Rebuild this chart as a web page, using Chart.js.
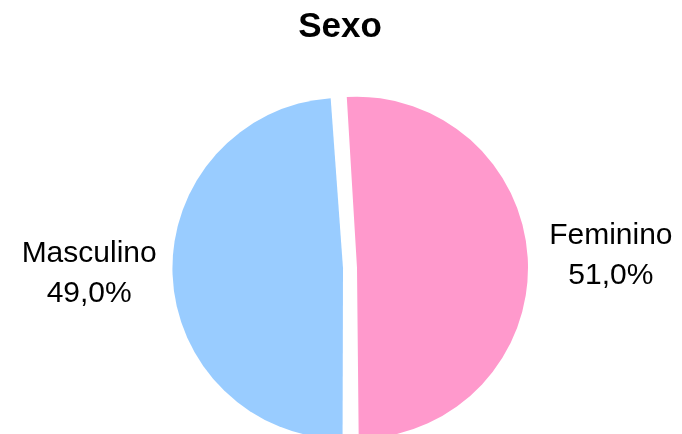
<!DOCTYPE html>
<html>
<head>
<meta charset="utf-8">
<script src="https://cdn.jsdelivr.net/npm/chart.js@4"></script>
<style>
    html, body { margin: 0; padding: 0; background: #fff; }
    #wrap { width: 682px; height: 434px; position: relative; }
</style>
</head>
<body>
<div id="wrap"><canvas id="sexoChart"></canvas></div>
<script>
const titleText = 'Sexo';
const labels = ['Feminino', 'Masculino'];
const values = [51.0, 49.0];
const colors = ['#FF99CC', '#99CCFF'];

Chart.defaults.font.family = "'Liberation Sans', Arial, sans-serif";
Chart.defaults.color = '#000';

const fmtPct = v => v.toFixed(1).replace('.', ',') + '%';

// title drawn by hand so it can sit a bit left of the pie centre
const titlePlugin = {
    id: 'sexoTitle',
    afterDraw(chart) {
        const ctx = chart.ctx;
        ctx.save();
        ctx.font = "bold 35px 'Liberation Sans', Arial, sans-serif";
        ctx.fillStyle = '#000';
        ctx.textAlign = 'center';
        ctx.textBaseline = 'middle';
        ctx.fillText(titleText, 340, 27);
        ctx.restore();
    }
};

// category + percentage outside each slice
const sliceLabels = {
    id: 'sliceLabels',
    afterDatasetsDraw(chart) {
        const ctx = chart.ctx;
        const meta = chart.getDatasetMeta(0);
        ctx.save();
        ctx.font = "30px 'Liberation Sans', Arial, sans-serif";
        ctx.fillStyle = '#000';
        ctx.textAlign = 'center';
        ctx.textBaseline = 'middle';
        meta.data.forEach((arc, i) => {
            const mid = (arc.startAngle + arc.endAngle) / 2;
            const shift = (arc.options.offset || 0) / 4;   // same shift the arc gets when exploded
            const r = arc.outerRadius + 90 + shift;
            const x = arc.x + Math.cos(mid) * r;
            const y = arc.y + Math.sin(mid) * r - 3;
            ctx.fillText(labels[i], x, y - 20);
            ctx.fillText(fmtPct(values[i]), x, y + 20);
        });
        ctx.restore();
    }
};

new Chart(document.getElementById('sexoChart'), {
    type: 'pie',
    data: {
        labels,
        datasets: [{
            data: values,
            backgroundColor: colors,
            borderWidth: 0,
            offset: 28
        }]
    },
    options: {
        responsive: true,
        maintainAspectRatio: false,
        animation: false,
        rotation: -3.8,
        radius: 164,
        layout: { padding: { top: 102, bottom: 0, left: 18, right: 0 } },
        plugins: {
            legend: { display: false },
            tooltip: { enabled: false },
            title: { display: false }
        }
    },
    plugins: [titlePlugin, sliceLabels]
});
</script>
</body>
</html>
